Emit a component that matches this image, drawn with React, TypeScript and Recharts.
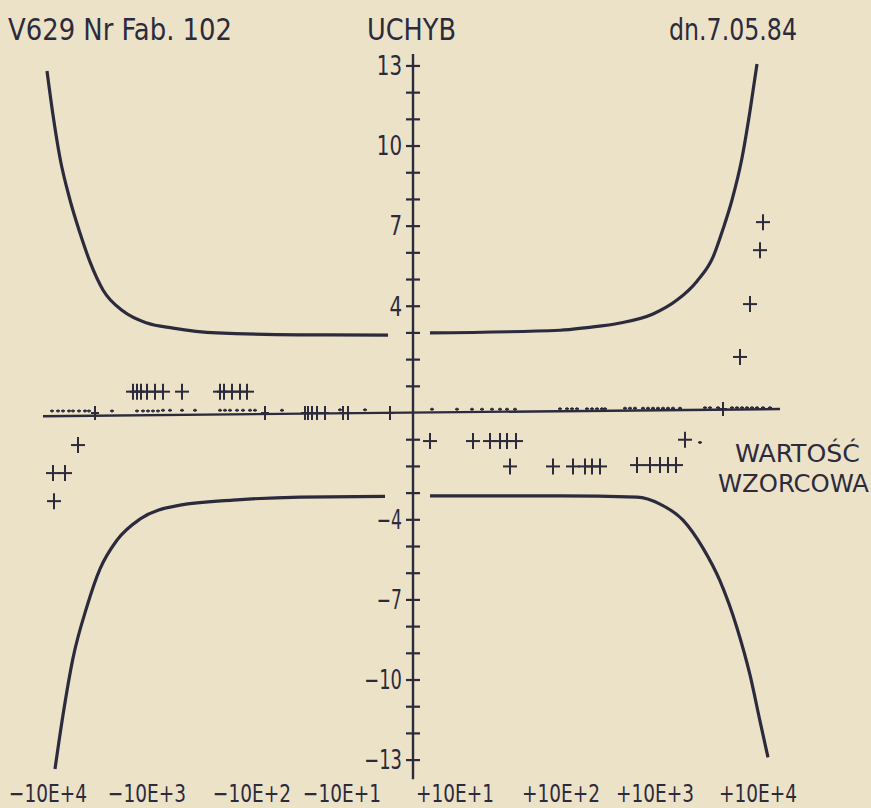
import React from 'react';
import { ComposedChart, Line, Scatter, XAxis, YAxis, ReferenceLine } from 'recharts';

const INK = '#2c2a3d';
const PAPER = '#ece2c7';
const FONT = '"DejaVu Sans Condensed", "DejaVu Sans", sans-serif';

// x axis: position in "decades" (symmetric log-like scale)
const xTickPositions = [-3.65, -2.66, -1.61, -0.71, 0.42, 1.48, 2.42, 3.45];
const xTickLabels = ['−10E+4', '−10E+3', '−10E+2', '−10E+1', '+10E+1', '+10E+2', '+10E+3', '+10E+4'];

// y axis ticks
const yTickValues = [-13, -12, -11, -10, -9, -8, -7, -6, -5, -4, -3, -2, -1, 1, 2, 3, 4, 5, 6, 7, 8, 9, 10, 11, 12, 13];
const yLabelled = [-13, -10, -7, -4, 4, 7, 10, 13];

// tolerance curves
const upperLeftU = [-3.66, -3.6, -3.53, -3.43, -3.33, -3.23, -3.1, -2.9, -2.66, -2.4, -1.96, -1.13, -0.25];
const upperLeftV = [12.81, 11.16, 9.55, 7.98, 6.74, 5.66, 4.61, 3.82, 3.37, 3.18, 3.0, 2.93, 2.92];
const lowerLeftU = [-3.58, -3.5, -3.4, -3.26, -3.13, -2.96, -2.73, -2.33, -1.8, -1.13, -0.28];
const lowerLeftV = [-13.33, -11.31, -9.18, -7.24, -5.84, -4.76, -3.97, -3.45, -3.26, -3.15, -3.12];
const upperRightU = [0.17, 1.47, 1.74, 2.07, 2.4, 2.64, 2.84, 3.0, 3.1, 3.19, 3.29, 3.37, 3.44];
const upperRightV = [3.0, 3.1, 3.2, 3.37, 3.71, 4.23, 4.94, 5.84, 6.89, 7.98, 9.55, 11.31, 13.07];
const lowerRightU = [0.17, 1.47, 2.24, 2.47, 2.7, 2.9, 3.07, 3.24, 3.37, 3.47, 3.55];
const lowerRightV = [-3.1, -3.1, -3.15, -3.41, -4.01, -5.06, -6.29, -8.05, -9.81, -11.54, -12.9];

// measured deviations (large crosses)
const bigU = [
  -2.8, -2.76, -2.72, -2.66, -2.58, -2.5, -2.31, -1.93, -1.89, -1.81, -1.73, -1.66,
  -3.35, -3.6, -3.48, -3.59,
  0.17, 0.6, 0.77, 0.87, 0.94, 1.03, 2.72,
  0.97, 1.4, 1.6, 1.72, 1.79, 1.87, 2.24, 2.37, 2.47, 2.55, 2.63,
  3.5, 3.47, 3.37, 3.27,
];
const bigV = [
  0.8, 0.8, 0.8, 0.8, 0.8, 0.8, 0.8, 0.8, 0.8, 0.8, 0.8, 0.8,
  -1.2, -2.25, -2.25, -3.3,
  -1.05, -1.05, -1.05, -1.05, -1.05, -1.05, -1.0,
  -2.0, -2.0, -2.0, -2.0, -2.0, -2.0, -1.95, -1.95, -1.95, -1.95, -1.95,
  7.15, 6.1, 4.08, 2.1,
];

// crosses lying on the zero line
const midU = [-3.18, -1.48, -1.08, -1.05, -1.01, -0.96, -0.88, -0.7, -0.65, -0.23, 3.1];
const midV = [0, 0, 0, 0, 0, 0, 0, 0, 0, 0, 0.15];

// tiny marks just above the zero line
const smallU = [
  -3.61, -3.55, -3.5, -3.44, -3.4, -3.34, -3.28, -3.24, -3.01, -2.76, -2.7, -2.65, -2.6, -2.55,
  -2.5, -2.43, -2.31, -2.18, -1.93, -1.88, -1.83, -1.76, -1.7, -1.63, -1.58, -1.31, -0.73, -0.48,
  0.19, 0.44, 0.59, 0.69, 0.79, 0.87, 0.94, 1.02, 1.47, 1.54, 1.59, 1.64, 1.74, 1.79, 1.84, 1.89,
  1.92, 2.12, 2.17, 2.22, 2.3, 2.35, 2.4, 2.45, 2.5, 2.55, 2.6, 2.67, 2.92, 2.97, 3.05, 3.19, 3.24,
  3.29, 3.34, 3.39, 3.44, 3.5, 3.57, 2.87,
];
const smallV = [
  0.08, 0.08, 0.08, 0.08, 0.08, 0.08, 0.08, 0.08, 0.08, 0.08, 0.08, 0.08, 0.08, 0.08,
  0.1, 0.1, 0.1, 0.1, 0.1, 0.1, 0.1, 0.1, 0.1, 0.1, 0.1, 0.1, 0.12, 0.12,
  0.14, 0.14, 0.14, 0.14, 0.14, 0.14, 0.14, 0.14, 0.16, 0.16, 0.16, 0.16, 0.16, 0.16, 0.16, 0.16,
  0.16, 0.18, 0.18, 0.18, 0.18, 0.18, 0.18, 0.18, 0.18, 0.18, 0.18, 0.18, 0.2, 0.2, 0.2, 0.2, 0.2,
  0.2, 0.2, 0.2, 0.2, 0.2, 0.2, -1.1,
];

const zip = (us: number[], vs: number[]) => us.map((x, i) => ({ x, y: vs[i] }));

const ulData = zip(upperLeftU, upperLeftV);
const llData = zip(lowerLeftU, lowerLeftV);
const urData = zip(upperRightU, upperRightV);
const lrData = zip(lowerRightU, lowerRightV);
const bigData = zip(bigU, bigV);
const midData = zip(midU, midV);
const smallData = zip(smallU, smallV);
const yTickData = yTickValues.map((y) => ({ x: 0, y, label: yLabelled.includes(y) ? (y < 0 ? '−' + Math.abs(y) : String(y)) : '' }));

const W = 871;
const H = 808;

const makePlus = (hw: number, hh: number, sw: number) => (props: any) => {
  const { cx, cy } = props;
  if (cx == null || cy == null) return <g />;
  return (
    <g>
      <line x1={cx - hw} x2={cx + hw} y1={cy} y2={cy} stroke={INK} strokeWidth={sw} />
      <line x1={cx} x2={cx} y1={cy - hh} y2={cy + hh} stroke={INK} strokeWidth={sw} />
    </g>
  );
};

const BigPlus = makePlus(7, 8, 2);
const MidPlus = makePlus(4, 7, 2);
const SmallPlus = makePlus(2, 1.5, 1.6);

const YTick = (props: any) => {
  const { cx, cy, payload } = props;
  if (cx == null || cy == null) return <g />;
  return (
    <g>
      <line x1={cx - 7} x2={cx + 7} y1={cy} y2={cy} stroke={INK} strokeWidth={2.2} />
      {payload.label ? (
        <text
          x={cx - 11}
          y={cy}
          dy="0.36em"
          textAnchor="end"
          fill={INK}
          fontSize={26}
          fontFamily={FONT}
          textLength={12.6 * payload.label.length}
          lengthAdjust="spacingAndGlyphs"
        >
          {payload.label}
        </text>
      ) : null}
    </g>
  );
};

const XTick = (props: any) => {
  const { x, y, payload } = props;
  const idx = xTickPositions.indexOf(payload.value);
  return (
    <text
      x={x}
      y={y + 20}
      textAnchor="middle"
      fill={INK}
      fontSize={25}
      fontFamily={FONT}
      textLength={78}
      lengthAdjust="spacingAndGlyphs"
    >
      {idx >= 0 ? xTickLabels[idx] : ''}
    </text>
  );
};

export default function App() {
  return (
    <div style={{ position: 'absolute', left: 0, top: 0, width: W, height: H, background: PAPER, overflow: 'hidden' }}>
      <ComposedChart width={W} height={H} margin={{ top: 0, right: 0, bottom: 0, left: 0 }}>
        <XAxis
          type="number"
          dataKey="x"
          domain={[-4.13, 4.58]}
          allowDataOverflow
          ticks={xTickPositions}
          interval={0}
          height={26}
          tickSize={0}
          tickMargin={0}
          axisLine={false}
          tickLine={false}
          tick={<XTick />}
        />
        <YAxis type="number" dataKey="y" domain={[-13.82, 15.47]} allowDataOverflow hide width={0} />
        <ReferenceLine
          segment={[{ x: -3.7, y: -0.12 }, { x: 3.67, y: 0.15 }]}
          stroke={INK}
          strokeWidth={2.4}
          ifOverflow="visible"
        />
        <ReferenceLine
          segment={[{ x: 0, y: -13.72 }, { x: 0, y: 13.45 }]}
          stroke={INK}
          strokeWidth={2.4}
          ifOverflow="visible"
        />
        <Scatter data={yTickData} dataKey="y" shape={<YTick />} isAnimationActive={false} />
        <Line data={ulData} dataKey="y" type="monotone" stroke={INK} strokeWidth={3.2} dot={false} activeDot={false} isAnimationActive={false} />
        <Line data={llData} dataKey="y" type="monotone" stroke={INK} strokeWidth={3.2} dot={false} activeDot={false} isAnimationActive={false} />
        <Line data={urData} dataKey="y" type="monotone" stroke={INK} strokeWidth={3.2} dot={false} activeDot={false} isAnimationActive={false} />
        <Line data={lrData} dataKey="y" type="monotone" stroke={INK} strokeWidth={3.2} dot={false} activeDot={false} isAnimationActive={false} />
        <Scatter data={smallData} dataKey="y" shape={<SmallPlus />} isAnimationActive={false} />
        <Scatter data={midData} dataKey="y" shape={<MidPlus />} isAnimationActive={false} />
        <Scatter data={bigData} dataKey="y" shape={<BigPlus />} isAnimationActive={false} />
      </ComposedChart>
      <svg width={W} height={H} style={{ position: 'absolute', left: 0, top: 0, pointerEvents: 'none' }}>
        <text x={8} y={40} fill={INK} fontSize={31} fontFamily={FONT} textLength={224} lengthAdjust="spacingAndGlyphs">V629 Nr Fab. 102</text>
        <text x={367} y={40} fill={INK} fontSize={31} fontFamily={FONT} textLength={89} lengthAdjust="spacingAndGlyphs">UCHYB</text>
        <text x={669} y={40} fill={INK} fontSize={31} fontFamily={FONT} textLength={128} lengthAdjust="spacingAndGlyphs">dn.7.05.84</text>
        <text x={735} y={462} fill={INK} fontSize={25} fontFamily={FONT} textLength={125} lengthAdjust="spacingAndGlyphs">WARTOŚĆ</text>
        <text x={718} y={492} fill={INK} fontSize={25} fontFamily={FONT} textLength={151} lengthAdjust="spacingAndGlyphs">WZORCOWA</text>
      </svg>
    </div>
  );
}
